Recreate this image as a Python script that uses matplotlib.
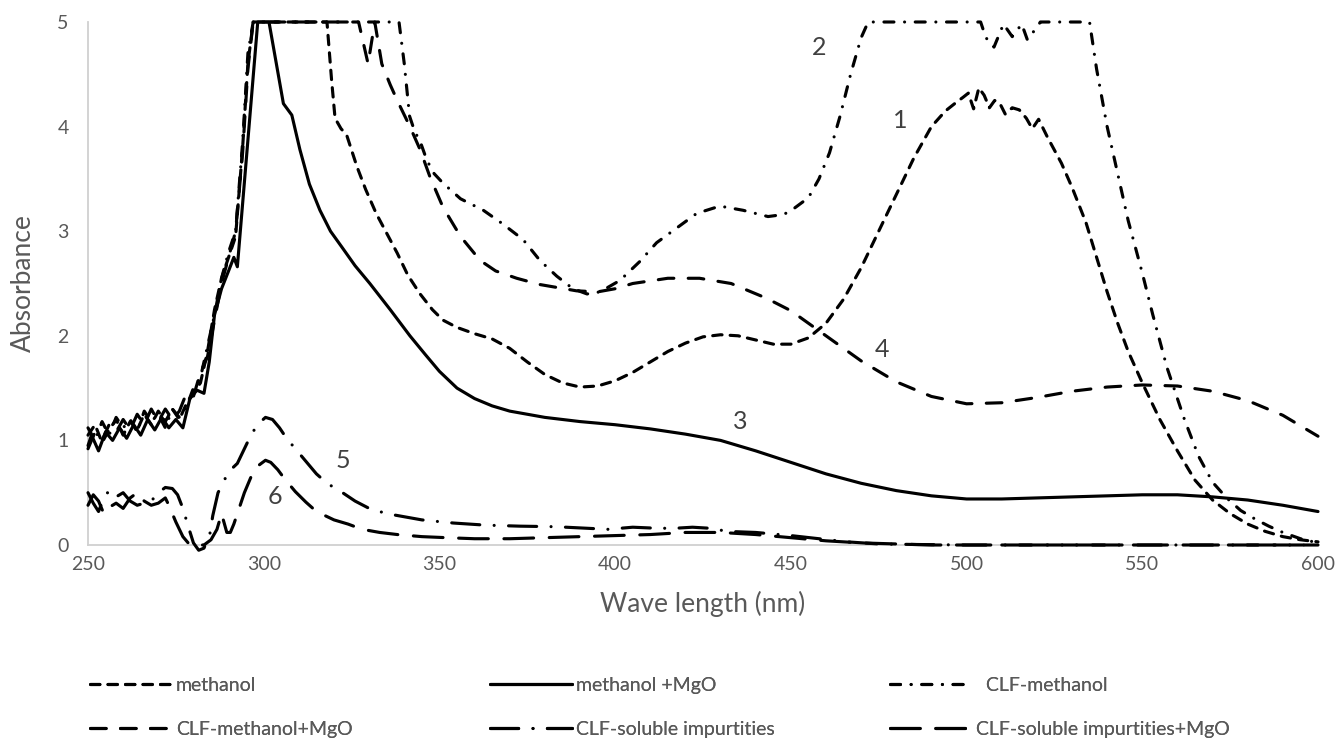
import matplotlib
matplotlib.use("Agg")
import matplotlib.pyplot as plt

plt.rcParams['font.family'] = ['Lato', 'DejaVu Sans']

# ---------------- data ----------------
series_names = ["methanol", "methanol +MgO", "  CLF-methanol",
                "CLF-methanol+MgO", "CLF-soluble impurtities",
                "CLF-soluble impurtities+MgO"]

wl_methanol = [250, 252, 254, 256, 258, 260, 262, 264, 266, 268, 270, 272, 274, 276, 278,
               280, 282, 284, 286, 288, 290, 292, 294, 295.5, 297, 318, 319.3, 320.3, 322,
               323.6, 326.5, 329, 332, 335, 338, 341, 344.5, 348, 351, 355, 360, 365, 370,
               375, 380, 385, 390, 395, 400, 405, 410, 415, 420, 425, 430, 435, 440, 445,
               450, 455, 460, 465, 470, 475, 480, 485, 490, 494, 497, 499, 500.5, 502,
               503.5, 505, 506.5, 508, 509.5, 511, 513, 515, 517, 518.7, 520.5, 523, 527,
               530, 534, 537, 540, 543, 546, 550, 555, 560, 565, 570, 575, 580, 585, 590,
               595, 600]
abs_methanol = [1.05, 1.15, 0.98, 1.1, 1.2, 1.05, 1.18, 1.1, 1.25, 1.15, 1.28, 1.18, 1.3,
                1.2, 1.35, 1.45, 1.55, 1.85, 2.25, 2.55, 2.75, 2.95, 3.8, 4.6, 5.0, 5.0,
                4.45, 4.08, 3.98, 3.92, 3.62, 3.4, 3.17, 2.98, 2.79, 2.58, 2.4, 2.25, 2.15,
                2.08, 2.02, 1.97, 1.88, 1.75, 1.63, 1.55, 1.51, 1.52, 1.57, 1.65, 1.75,
                1.85, 1.93, 1.99, 2.01, 2.0, 1.96, 1.92, 1.92, 1.98, 2.12, 2.35, 2.65, 3.0,
                3.35, 3.7, 4.0, 4.15, 4.23, 4.28, 4.32, 4.17, 4.37, 4.3, 4.18, 4.25, 4.22,
                4.12, 4.18, 4.16, 4.08, 3.98, 4.07, 3.9, 3.65, 3.42, 3.08, 2.75, 2.42,
                2.12, 1.85, 1.55, 1.2, 0.9, 0.62, 0.43, 0.3, 0.2, 0.13, 0.08, 0.05, 0.03]

wl_methanol_mgo = [250, 251, 253, 255, 257, 259, 261, 263, 265, 267, 269, 271, 273, 275,
                   277, 279, 281, 283, 284.5, 286, 288, 290, 291.5, 292.5, 298.3, 301.5,
                   305.6, 308, 310.3, 313, 316, 319, 322.2, 326, 330.2, 336, 341.6, 346,
                   350, 355, 360, 365, 370, 380, 390, 400, 410, 420, 430, 440, 450, 460,
                   470, 480, 490, 500, 510, 520, 530, 540, 550, 560, 570, 580, 590, 600]
abs_methanol_mgo = [0.95, 1.05, 0.9, 1.08, 1.0, 1.12, 1.02, 1.15, 1.05, 1.2, 1.1, 1.22,
                    1.12, 1.2, 1.12, 1.4, 1.48, 1.45, 1.75, 2.2, 2.45, 2.62, 2.75, 2.66,
                    5.0, 5.0, 4.22, 4.11, 3.78, 3.45, 3.2, 3.0, 2.85, 2.67, 2.5, 2.25,
                    2.0, 1.82, 1.66, 1.5, 1.4, 1.33, 1.28, 1.22, 1.18, 1.15, 1.11, 1.06,
                    1.0, 0.9, 0.79, 0.68, 0.59, 0.52, 0.47, 0.44, 0.44, 0.45, 0.46, 0.47,
                    0.48, 0.48, 0.46, 0.43, 0.38, 0.32]

wl_clf = [250, 252, 254, 256, 258, 260, 262, 264, 266, 268, 270, 272, 274, 276, 278, 280,
          282, 284, 286, 288, 290, 292, 294, 295.5, 297, 338.5, 340, 341.5, 343, 344.5,
          346.4, 348.5, 351, 356, 362.5, 368, 373.8, 378.6, 383.4, 388, 392, 395.7, 401.4,
          407, 411.8, 417.5, 423.2, 429.8, 436.4, 443.5, 448, 451, 455, 458, 461, 464,
          467, 470, 472, 504, 505.5, 507.8, 510.5, 513, 515.7, 517.3, 520, 521, 535, 537,
          540, 543, 546, 550, 553, 557, 562, 566, 570, 574, 578, 582, 586, 590, 595, 600]
abs_clf = [1.12, 1.0, 1.18, 1.05, 1.22, 1.12, 1.2, 1.08, 1.28, 1.18, 1.25, 1.12, 1.3, 1.22,
           1.32, 1.5, 1.6, 1.9, 2.2, 2.55, 2.8, 3.0, 3.85, 4.7, 5.0, 5.0, 4.6, 4.1, 3.95,
           3.86, 3.68, 3.55, 3.46, 3.31, 3.2, 3.07, 2.92, 2.72, 2.57, 2.45, 2.4, 2.42, 2.53,
           2.71, 2.89, 3.03, 3.17, 3.24, 3.2, 3.14, 3.16, 3.22, 3.32, 3.5, 3.75, 4.1, 4.5,
           4.85, 5.0, 5.0, 4.85, 4.76, 4.98, 4.86, 4.98, 4.83, 4.95, 5.0, 5.0, 4.55, 4.0,
           3.55, 3.1, 2.6, 2.2, 1.7, 1.2, 0.85, 0.6, 0.45, 0.33, 0.25, 0.18, 0.12, 0.06, 0.02]

wl_clf_mgo = [250, 252, 254, 256, 258, 260, 262, 264, 266, 268, 270, 272, 274, 276, 278,
              280, 282, 284, 286, 288, 290, 292, 294, 295.5, 297, 327, 329.7, 331.6, 333.6,
              336, 338, 341.6, 344.5, 347.3, 351, 356, 361.6, 366, 372, 378.6, 389, 395,
              400, 405, 415, 424, 433, 443, 450, 460, 470, 480, 490, 500, 510, 520, 530,
              540, 550, 560, 570, 580, 590, 600]
abs_clf_mgo = [0.92, 1.08, 1.0, 1.15, 1.08, 1.2, 1.1, 1.25, 1.15, 1.3, 1.18, 1.3, 1.2,
               1.28, 1.45, 1.42, 1.65, 1.8, 2.15, 2.5, 2.75, 3.0, 3.75, 4.55, 5.0, 5.0, 4.6,
               5.0, 4.6, 4.4, 4.25, 4.0, 3.78, 3.52, 3.23, 2.95, 2.72, 2.62, 2.55, 2.49,
               2.43, 2.42, 2.45, 2.5, 2.55, 2.55, 2.5, 2.36, 2.24, 2.0, 1.76, 1.56, 1.42,
               1.35, 1.36, 1.41, 1.47, 1.51, 1.53, 1.52, 1.47, 1.38, 1.24, 1.04]

wl_imp = [250, 251.5, 253, 254.5, 256, 258, 260, 262, 264, 266, 268, 270, 272, 274, 275.5,
          277, 278.5, 280, 281.5, 283, 284.7, 285.5, 287, 290, 292.5, 294.5, 296.5, 298.5,
          300.5, 302.5, 304.5, 306.5, 309, 312, 315, 318, 322, 326, 330, 335, 340, 345, 354,
          363, 373, 383, 392, 398, 405, 412, 417, 422, 427, 432, 440, 450, 458, 466, 475,
          485, 500, 550, 600]
abs_imp = [0.5, 0.4, 0.32, 0.45, 0.52, 0.46, 0.5, 0.42, 0.38, 0.4, 0.42, 0.5, 0.55, 0.54,
           0.48, 0.35, 0.18, 0.02, -0.05, -0.03, 0.11, 0.28, 0.5, 0.7, 0.78, 0.92, 1.06,
           1.16, 1.22, 1.2, 1.12, 1.02, 0.92, 0.8, 0.68, 0.59, 0.51, 0.42, 0.35, 0.3, 0.27,
           0.24, 0.21, 0.19, 0.18, 0.175, 0.16, 0.15, 0.17, 0.16, 0.16, 0.17, 0.16, 0.13,
           0.12, 0.09, 0.06, 0.03, 0.01, 0.005, 0.0, 0.0, 0.0]

wl_imp_mgo = [250, 251.5, 253, 254.5, 256, 258, 260, 262, 264, 266, 268, 270, 272, 273,
              275, 277, 279, 281, 283, 285, 286.7, 288, 289.5, 290.5, 291.5, 294.5, 296.5,
              298.5, 300.5, 302, 304, 306, 309, 312, 315, 320, 324, 328, 333, 338, 345, 352,
              360, 370, 380, 390, 400, 410, 420, 430, 440, 450, 460, 470, 480, 490, 500,
              550, 600]
abs_imp_mgo = [0.38, 0.48, 0.42, 0.3, 0.36, 0.4, 0.35, 0.45, 0.5, 0.42, 0.38, 0.4, 0.45,
               0.38, 0.22, 0.08, 0.0, 0.0, 0.0, 0.05, 0.15, 0.3, 0.12, 0.12, 0.2, 0.5,
               0.66, 0.76, 0.81, 0.79, 0.72, 0.63, 0.51, 0.41, 0.32, 0.24, 0.2, 0.15, 0.12,
               0.1, 0.08, 0.07, 0.06, 0.06, 0.07, 0.08, 0.09, 0.1, 0.12, 0.12, 0.1, 0.07,
               0.04, 0.02, 0.01, 0.0, 0.0, 0.0, 0.0]

x_ticks = [250, 300, 350, 400, 450, 500, 550, 600]
y_ticks = [0, 1, 2, 3, 4, 5]

curve_labels = ["1", "2", "3", "4", "5", "6"]
curve_label_wl = [481, 458, 435.5, 476, 322.6, 303.2]
curve_label_abs = [4.06, 4.76, 1.18, 1.87, 0.81, 0.46]

# ---------------- styles ----------------
W, H = 1339, 750
fig = plt.figure(figsize=(W / 100, H / 100), dpi=100)
ax = fig.add_axes([88 / W, 1 - 545 / H, (1318 - 88) / W, (545 - 22) / H])

lw = 2.25
dash_styles = [
    (0, (3.0, 2.6)),                  # methanol
    'solid',                          # methanol +MgO
    (0, (3.2, 3.4, 0.01, 3.4)),       # CLF-methanol
    (0, (5.0, 4.6)),                  # CLF-methanol+MgO
    (0, (9.0, 4.6, 0.01, 4.6)),       # CLF-soluble impurtities
    (0, (9.5, 5.0)),                  # CLF-soluble impurtities+MgO
]
xs = [wl_methanol, wl_methanol_mgo, wl_clf, wl_clf_mgo, wl_imp, wl_imp_mgo]
ys = [abs_methanol, abs_methanol_mgo, abs_clf, abs_clf_mgo, abs_imp, abs_imp_mgo]

lines = []
for x, y, ls, name in zip(xs, ys, dash_styles, series_names):
    ln, = ax.plot(x, y, color='black', lw=lw, linestyle=ls, label=name,
                  dash_capstyle='round', solid_capstyle='round',
                  solid_joinstyle='round', clip_on=False)
    lines.append(ln)

ax.set_xlim(250, 600)
ax.set_ylim(0, 5)
ax.set_xticks(x_ticks)
ax.set_yticks(y_ticks)
ax.tick_params(length=0, labelsize=14, colors='#595959')
ax.tick_params(axis='y', pad=14)
ax.tick_params(axis='x', pad=8)
for s in ['top', 'right']:
    ax.spines[s].set_visible(False)
for s in ['left', 'bottom']:
    ax.spines[s].set_color('#D0D0D0')
    ax.spines[s].set_linewidth(1.3)
    ax.spines[s].set_zorder(0.5)

ax.set_xlabel("Wave length (nm)", fontsize=19, color='#595959', labelpad=13)
ax.set_ylabel("Absorbance", fontsize=19, color='#595959', labelpad=15)

for t, xw, ya in zip(curve_labels, curve_label_wl, curve_label_abs):
    ax.text(xw, ya, t, fontsize=18, color='#404040', ha='center', va='center')

# legend: three equal-width columns, each with two rows
col_x = [90, 490, 890]
legend_y = 1 - 707.5 / H
fs = 14
fs_px = fs * 100 / 72
for c in range(3):
    hs = [lines[c], lines[c + 3]]
    labs = [series_names[c], series_names[c + 3]]
    leg = fig.legend(hs, labs, loc='center left',
                     bbox_to_anchor=(col_x[c] / W, legend_y),
                     frameon=False, fontsize=fs, handlelength=82 / fs_px,
                     handletextpad=4 / fs_px, labelspacing=1.36, borderpad=0,
                     borderaxespad=0, labelcolor='#595959')
    fig.add_artist(leg)

fig.savefig("out.png", dpi=100)
